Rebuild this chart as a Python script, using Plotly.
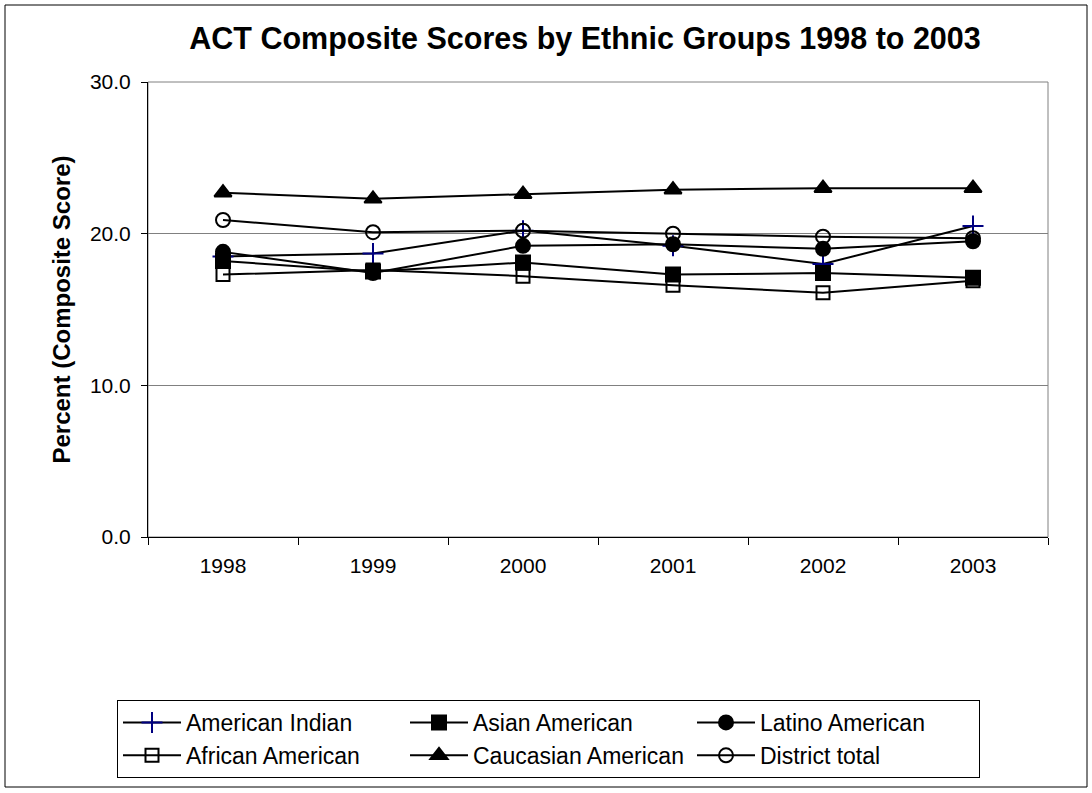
import plotly.graph_objects as go

years = [1998, 1999, 2000, 2001, 2002, 2003]
american_indian = [18.5, 18.7, 20.2, 19.2, 18.0, 20.5]
asian_american = [18.2, 17.5, 18.1, 17.3, 17.4, 17.1]
latino_american = [18.8, 17.4, 19.2, 19.3, 19.0, 19.5]
african_american = [17.3, 17.6, 17.2, 16.6, 16.1, 16.9]
caucasian_american = [22.7, 22.3, 22.6, 22.9, 23.0, 23.0]
district_total = [20.9, 20.1, 20.2, 20.0, 19.8, 19.7]

series = [
    ("American Indian", american_indian, "cross-thin", "navy", 15),
    ("Asian American", asian_american, "square", "black", 14),
    ("Latino American", latino_american, "circle", "black", 14),
    ("African American", african_american, "square-open", "black", 13),
    ("Caucasian American", caucasian_american, "triangle-up", "black", 15),
    ("District total", district_total, "circle-open", "black", 14),
]

fig = go.Figure()
for name, vals, sym, col, size in series:
    fig.add_trace(go.Scatter(
        x=years, y=vals, name=name, mode="lines+markers",
        line=dict(color="black", width=2),
        marker=dict(symbol=sym, color=col, size=size,
                    line=dict(color=col, width=2)),
    ))

W, H = 1092, 793
L, R, T, B = 148, W - 1048, 82, H - 537
pw, ph = W - L - R, H - T - B

fig.update_layout(
    width=W, height=H,
    margin=dict(l=L, r=R, t=T, b=B),
    paper_bgcolor="white", plot_bgcolor="white",
    font=dict(family="Liberation Sans, Arial", size=21, color="black"),
    title=dict(text="<b>ACT Composite Scores by Ethnic Groups 1998 to 2003</b>",
               x=585 / W, xanchor="center", y=1 - 38 / H, yanchor="middle",
               font=dict(size=30.5)),
    showlegend=True,
    legend=dict(orientation="h", x=(117 - L) / pw, xanchor="left",
                y=(H - B - 700) / ph, yanchor="top",
                bordercolor="black", borderwidth=1,
                entrywidth=214, entrywidthmode="pixels",
                font=dict(size=23), tracegroupgap=0, itemwidth=58),
    xaxis=dict(range=[1997.5, 2003.5], tickvals=years, ticktext=[str(y) for y in years],
               showgrid=False, zeroline=False, showline=True, linecolor="black",
               linewidth=1, ticks="", ticklen=0, ticklabelstandoff=10,
               tickfont=dict(size=21),
               minor=dict(tick0=1997.5, dtick=1, ticks="outside", ticklen=7,
                          tickcolor="black", showgrid=False)),
    yaxis=dict(range=[0, 30], dtick=10, tickformat=".1f", showgrid=True,
               gridcolor="#808080", gridwidth=1, zeroline=False,
               showline=True, linecolor="black", linewidth=1,
               ticks="outside", ticklen=6, tickcolor="black",
               ticklabelstandoff=6, tickfont=dict(size=21),
               title=dict(text="<b>Percent (Composite Score)</b>", standoff=12,
                          font=dict(size=24))),
    shapes=[
        dict(type="rect", xref="paper", yref="paper", x0=0, x1=1, y0=0, y1=1,
             line=dict(color="#808080", width=1), layer="below"),
        dict(type="rect", xref="paper", yref="paper",
             x0=(5 - L) / pw, x1=(1087 - L) / pw,
             y0=(H - B - 787) / ph, y1=(H - B - 5) / ph,
             line=dict(color="black", width=1), layer="below"),
    ],
)

fig.write_html("out.html")
